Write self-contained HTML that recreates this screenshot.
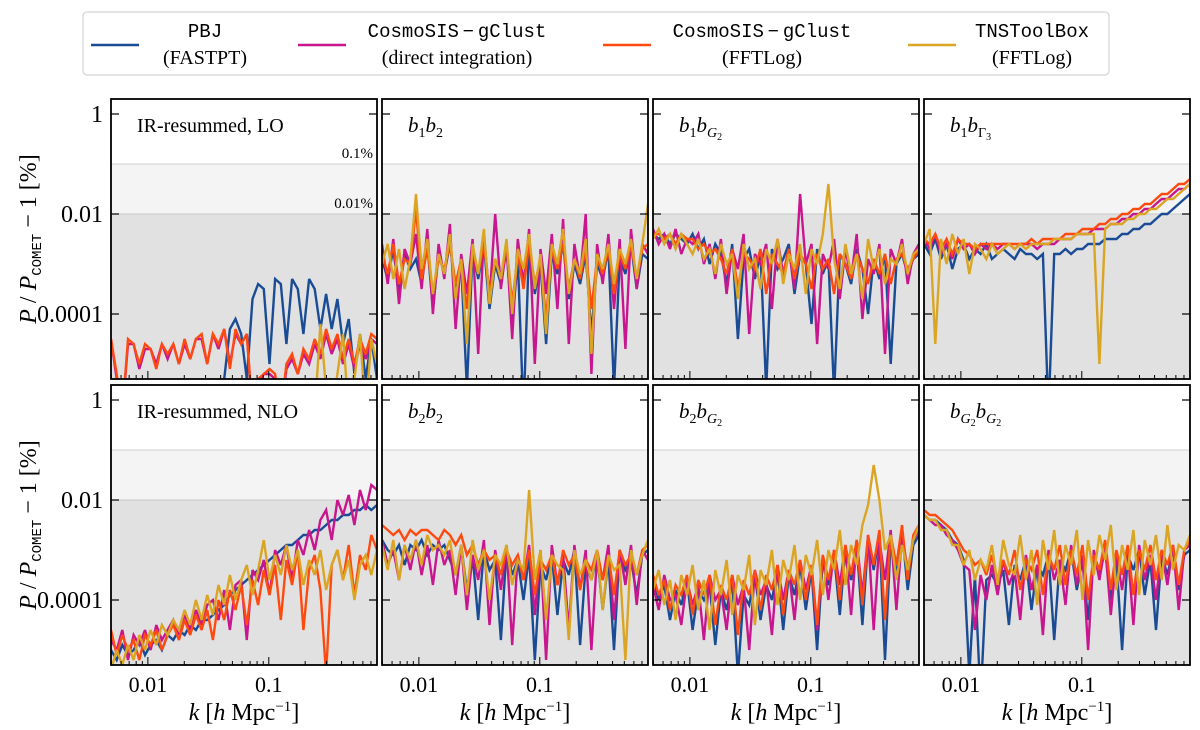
<!DOCTYPE html>
<html><head><meta charset="utf-8"><style>
body{margin:0;background:#fff;}
svg{display:block;font-family:"Liberation Serif",serif;}
</style></head><body>
<svg id="chart" width="1200" height="730" viewBox="0 0 1200 730"></svg>
<script>
// x-axis domain: log10 k range
const kLogMin = -2.305, kLogMax = -0.105;
// y-axis domain: log10 of |P/P_COMET-1| in %
const yLogTop = 0.3, yLogBottom = -5.3;
const yTickValues = [0, -2, -4];
const yTickLabels = ["1", "0.01", "0.0001"];
const xTickValues = [-2, -1];
const xTickLabels = ["0.01", "0.1"];
const seriesNames = ["PBJ", "CosmoSIS-gClust (direct integration)", "CosmoSIS-gClust (FFTLog)", "TNSToolBox (FFTLog)"];
const seriesColors = ["#1a4c95", "#c8168e", "#ff4a0f", "#dba524"];

// log10 values sampled on an even log-k grid
const loPBJ = [-6,-6,-6,-6,-6,-6,-6,-6,-6,-6,-6,-6,-6,-6,-6,-6,-6,-6,-6,-6,-5.3,-4.3,-4.1,-4.4,-5.3,-3.7,-3.4,-3.5,-5.0,-3.3,-3.4,-4.6,-3.3,-3.5,-4.4,-3.3,-3.5,-4.3,-3.6,-4.3,-3.7,-4.6,-4.1,-5.2,-4.4,-5.3,-4.5,-5.3];
const loDirect = [-4.5,-5.3,-6,-4.6,-4.6,-5.1,-4.7,-4.7,-5.0,-4.6,-4.9,-4.6,-5.0,-4.6,-4.9,-4.5,-4.5,-5.0,-4.4,-4.7,-4.3,-5.0,-4.4,-4.6,-4.4,-6,-5.4,-5.2,-5.2,-5.3,-6,-5.1,-4.9,-5.2,-4.8,-5.0,-4.6,-4.9,-4.4,-4.8,-4.5,-5.0,-4.6,-5.1,-4.6,-4.9,-4.5,-4.6];
const loFFT = [-4.5,-5.2,-6,-4.5,-4.6,-5.0,-4.6,-4.7,-5.1,-4.6,-4.8,-4.6,-5.0,-4.5,-4.9,-4.5,-4.4,-5.0,-4.4,-4.6,-4.3,-5.1,-4.3,-4.6,-4.4,-6,-5.3,-5.2,-5.1,-5.2,-6,-5.0,-4.8,-5.2,-4.7,-4.9,-4.5,-4.8,-4.3,-4.7,-4.4,-4.9,-4.5,-5.0,-4.5,-4.8,-4.4,-4.5];
const loTNS = [-6,-6,-6,-6,-6,-6,-6,-6,-6,-6,-6,-6,-6,-6,-6,-6,-6,-6,-6,-6,-6,-6,-6,-6,-6,-6,-6,-6,-6,-6,-6,-6,-6,-6,-6,-6,-6,-4.2,-5.5,-6,-5.2,-4.4,-6,-5.3,-4.4,-6,-4.5,-5.0];

const b1b2PBJ = [-2.9,-3.3,-2.7,-3.6,-2.8,-3.1,-2.9,-3.4,-2.6,-3.9,-2.8,-3.2,-2.6,-3.5,-3.0,-5.5,-2.7,-3.3,-2.6,-3.9,-3.0,-3.4,-2.7,-4.2,-2.9,-6,-2.6,-3.6,-3.0,-4.6,-2.8,-3.2,-2.6,-3.7,-3.0,-3.4,-2.8,-4.4,-3.0,-3.3,-2.7,-5.5,-2.9,-3.2,-2.6,-3.5,-2.8,-2.9];
const b1b2Direct = [-2.6,-3.4,-2.5,-3.8,-2.7,-3.0,-2.4,-3.5,-2.3,-4.0,-2.6,-3.3,-2.2,-4.3,-2.8,-3.6,-2.5,-4.8,-2.4,-3.7,-2.0,-3.5,-2.6,-4.5,-2.5,-3.4,-2.3,-5.0,-2.7,-3.6,-2.4,-3.9,-2.1,-4.6,-2.6,-3.3,-2.0,-5.2,-2.6,-3.4,-2.4,-3.9,-2.5,-4.7,-2.3,-3.5,-2.6,-2.8];
const b1b2FFT = [-2.8,-3.2,-2.6,-3.4,-2.9,-3.0,-1.9,-3.3,-2.7,-3.6,-2.9,-3.1,-2.6,-3.4,-2.9,-3.9,-2.7,-3.2,-2.6,-3.6,-2.9,-3.3,-2.6,-3.8,-2.8,-3.5,-2.6,-3.4,-2.9,-4.1,-2.7,-3.1,-2.6,-3.5,-2.9,-3.3,-2.7,-3.9,-2.9,-3.2,-2.7,-3.6,-2.8,-3.1,-2.6,-3.3,-2.7,-2.6];
const b1b2TNS = [-3.0,-2.6,-3.3,-2.7,-3.5,-2.9,-1.6,-3.1,-2.5,-3.6,-2.8,-3.2,-2.4,-3.7,-2.9,-4.6,-2.6,-3.2,-2.3,-3.8,-2.9,-3.3,-2.5,-4.0,-2.7,-3.1,-2.4,-3.5,-2.8,-4.4,-2.6,-3.0,-2.3,-3.6,-2.9,-3.2,-2.5,-4.8,-2.8,-3.1,-2.6,-3.4,-2.7,-3.0,-2.5,-3.3,-2.6,-1.8];

const b1bG2PBJ = [-2.4,-2.5,-2.4,-2.6,-2.4,-2.5,-2.6,-2.4,-2.7,-2.5,-3.0,-2.6,-2.8,-3.4,-2.6,-4.5,-2.9,-2.7,-3.3,-2.8,-5.5,-2.7,-3.1,-2.9,-2.6,-3.6,-2.8,-3.0,-4.2,-2.7,-3.2,-2.9,-5.6,-2.8,-3.0,-3.4,-2.7,-3.1,-4.0,-2.9,-3.3,-2.8,-5.0,-3.0,-2.8,-3.2,-2.9,-2.8];
const b1bG2Direct = [-2.3,-2.6,-2.4,-2.7,-2.3,-2.8,-2.5,-2.6,-2.4,-3.0,-2.6,-3.3,-2.5,-3.6,-2.7,-3.1,-2.4,-4.4,-2.8,-3.0,-2.6,-3.9,-2.5,-3.2,-2.7,-3.5,-1.6,-3.0,-2.6,-4.6,-2.8,-3.1,-2.5,-3.7,-2.7,-3.3,-2.4,-4.1,-2.9,-3.2,-2.6,-4.8,-2.7,-3.0,-2.5,-3.4,-2.8,-2.6];
const b1bG2FFT = [-2.4,-2.4,-2.5,-2.4,-2.6,-2.4,-2.5,-2.5,-2.7,-2.6,-2.8,-2.7,-2.9,-3.2,-2.7,-3.5,-2.8,-2.9,-3.1,-2.7,-3.6,-2.8,-3.0,-3.2,-2.7,-3.3,-2.8,-3.0,-3.5,-2.8,-3.1,-2.9,-3.6,-2.8,-3.0,-3.3,-2.8,-3.1,-3.4,-2.9,-3.2,-2.8,-3.4,-2.9,-2.8,-3.1,-2.9,-2.7];
const b1bG2TNS = [-2.5,-2.3,-2.6,-2.4,-2.7,-2.4,-2.6,-2.8,-2.5,-2.9,-2.7,-3.2,-2.6,-3.0,-2.8,-3.7,-2.6,-3.1,-2.9,-3.5,-2.7,-3.0,-2.5,-3.4,-2.8,-3.1,-2.6,-3.6,-2.7,-3.0,-2.4,-1.4,-2.9,-3.5,-2.6,-3.2,-2.8,-3.7,-2.5,-3.1,-2.7,-3.4,-2.9,-3.0,-2.6,-3.2,-2.8,-2.7];

const b1bGam3PBJ = [-2.6,-2.8,-2.5,-2.9,-2.6,-3.1,-2.7,-2.6,-2.9,-2.7,-2.8,-2.6,-2.9,-2.8,-2.7,-2.8,-2.9,-2.7,-2.8,-2.8,-2.9,-2.8,-6,-2.8,-2.8,-2.7,-2.8,-2.7,-2.7,-2.6,-2.6,-2.6,-2.5,-2.5,-2.5,-2.4,-2.4,-2.3,-2.3,-2.2,-2.2,-2.1,-2.0,-2.0,-1.9,-1.8,-1.7,-1.6];
const b1bGam3Direct = [-2.5,-2.7,-2.4,-2.8,-2.6,-2.9,-2.5,-2.7,-2.6,-2.8,-2.6,-2.7,-2.6,-2.7,-2.6,-2.6,-2.7,-2.6,-2.6,-2.6,-2.7,-2.6,-2.6,-2.6,-2.5,-2.5,-2.5,-2.4,-2.4,-2.4,-2.3,-2.3,-2.3,-2.2,-2.2,-2.1,-2.1,-2.0,-2.0,-1.9,-1.9,-1.8,-1.7,-1.7,-1.6,-1.5,-1.5,-1.4];
const b1bGam3FFT = [-2.5,-2.6,-2.4,-2.7,-2.5,-2.8,-2.5,-2.6,-2.6,-2.7,-2.6,-2.6,-2.6,-2.6,-2.6,-2.6,-2.6,-2.6,-2.6,-2.5,-2.6,-2.5,-2.5,-2.5,-2.5,-2.4,-2.4,-2.4,-2.3,-2.3,-2.3,-2.2,-2.2,-2.1,-2.1,-2.0,-2.0,-1.9,-1.9,-1.8,-1.8,-1.7,-1.6,-1.6,-1.5,-1.4,-1.4,-1.3];
const b1bGam3TNS = [-2.6,-2.3,-4.6,-2.5,-3.0,-2.4,-2.8,-2.5,-3.2,-2.6,-2.7,-2.9,-2.6,-2.8,-2.7,-2.6,-2.7,-2.6,-2.7,-2.6,-2.6,-2.6,-2.6,-2.5,-2.5,-2.5,-2.5,-2.4,-2.4,-2.4,-2.4,-5.0,-2.3,-2.2,-2.2,-2.2,-2.1,-2.1,-2.0,-2.0,-1.9,-1.9,-1.8,-1.7,-1.7,-1.6,-1.5,-1.4];

const nloPBJ = [-5.0,-5.2,-4.9,-5.1,-5.0,-4.8,-5.1,-4.9,-4.8,-5.0,-4.7,-4.8,-4.6,-4.7,-4.5,-4.6,-4.4,-4.4,-4.3,-4.2,-4.1,-3.9,-3.8,-3.7,-3.6,-3.5,-3.4,-3.3,-3.2,-3.1,-3.0,-2.9,-2.9,-2.8,-2.7,-2.7,-2.6,-2.6,-2.5,-2.4,-2.4,-2.3,-2.3,-2.2,-2.2,-2.1,-2.2,-2.1];
const nloDirect = [-4.8,-5.0,-4.6,-5.2,-4.7,-4.9,-4.6,-5.0,-4.5,-4.8,-4.6,-4.4,-4.7,-4.3,-4.6,-4.2,-4.5,-4.1,-4.0,-4.4,-3.8,-4.6,-3.7,-3.6,-4.8,-3.4,-3.6,-3.2,-3.9,-3.0,-3.3,-2.9,-3.6,-2.8,-3.1,-2.6,-3.0,-2.4,-2.2,-2.8,-2.0,-2.3,-1.9,-2.5,-1.8,-2.2,-1.7,-1.8];
const nloFFT = [-4.6,-5.1,-4.7,-5.0,-4.8,-5.2,-4.7,-4.9,-4.6,-5.0,-4.7,-4.5,-4.8,-4.4,-4.7,-4.3,-4.6,-4.2,-4.8,-4.0,-4.4,-3.8,-4.2,-3.7,-4.5,-3.6,-4.1,-3.4,-3.9,-3.3,-4.4,-3.2,-3.7,-3.0,-4.6,-3.4,-3.1,-3.8,-5.5,-3.3,-3.0,-3.6,-2.9,-3.9,-3.1,-3.4,-2.7,-3.0];
const nloTNS = [-5.4,-5.0,-5.3,-4.9,-5.2,-4.7,-5.0,-4.6,-4.9,-4.5,-4.7,-4.4,-4.6,-4.2,-4.5,-4.0,-4.4,-3.9,-4.3,-3.7,-4.1,-3.5,-4.0,-3.6,-3.3,-3.9,-3.4,-2.8,-3.6,-3.1,-3.5,-2.9,-3.4,-3.0,-3.7,-3.2,-3.5,-3.0,-3.8,-3.3,-3.0,-3.6,-3.2,-4.0,-3.3,-3.1,-3.5,-3.0];

const b2b2PBJ = [-2.8,-3.0,-3.1,-2.9,-3.3,-2.9,-3.0,-2.8,-3.1,-2.9,-3.0,-2.9,-3.2,-3.5,-2.9,-3.8,-3.1,-4.4,-3.0,-3.4,-3.2,-4.8,-3.0,-3.5,-3.2,-4.0,-3.1,-5.2,-3.3,-3.6,-3.1,-4.3,-3.2,-3.5,-3.0,-4.9,-3.3,-3.6,-3.1,-4.2,-3.2,-5.0,-3.0,-3.4,-3.2,-3.9,-3.1,-3.0];
const b2b2Direct = [-2.8,-3.3,-3.0,-3.6,-2.9,-3.4,-2.8,-3.5,-2.9,-3.7,-2.8,-3.3,-3.0,-3.9,-2.9,-4.2,-3.1,-3.6,-2.8,-4.5,-3.0,-3.8,-2.9,-4.9,-3.1,-3.6,-2.9,-4.3,-3.0,-5.2,-2.9,-3.7,-3.1,-4.6,-2.9,-3.8,-3.0,-5.0,-3.1,-3.6,-2.9,-4.4,-3.0,-3.7,-2.9,-4.1,-3.0,-3.2];
const b2b2FFT = [-2.5,-2.6,-2.7,-2.6,-2.8,-2.6,-2.7,-2.6,-2.6,-2.7,-2.8,-2.6,-2.7,-2.9,-2.7,-3.1,-2.9,-3.3,-3.0,-3.2,-3.1,-3.5,-3.0,-3.3,-3.1,-3.6,-3.0,-3.9,-3.2,-3.4,-3.1,-3.7,-3.0,-3.3,-3.1,-3.8,-3.2,-3.4,-3.0,-3.6,-3.1,-3.9,-3.0,-3.3,-3.1,-3.5,-3.0,-2.9];
const b2b2TNS = [-2.9,-3.4,-2.8,-3.6,-2.9,-3.2,-2.8,-3.3,-2.7,-3.0,-2.9,-3.1,-2.8,-3.5,-2.9,-3.9,-2.8,-3.4,-3.0,-4.0,-3.1,-3.3,-2.9,-3.7,-3.2,-3.4,-1.8,-3.6,-3.0,-4.4,-3.1,-3.3,-3.4,-4.8,-3.0,-3.5,-3.2,-3.6,-3.0,-4.2,-3.1,-3.4,-3.3,-5.2,-3.0,-3.5,-3.1,-2.8];

const b2bG2PBJ = [-3.6,-4.0,-3.7,-4.4,-3.8,-4.1,-3.6,-4.6,-3.8,-4.0,-3.7,-4.9,-3.8,-4.2,-3.6,-5.5,-3.9,-4.1,-3.5,-4.4,-3.7,-4.0,-3.4,-4.6,-3.5,-3.9,-3.3,-4.2,-3.4,-5.0,-3.2,-3.7,-3.1,-4.3,-3.0,-3.6,-2.9,-4.5,-2.8,-3.4,-2.7,-5.2,-2.8,-3.5,-2.6,-3.8,-2.9,-2.7];
const b2bG2Direct = [-3.7,-4.2,-3.5,-4.0,-3.9,-4.5,-3.6,-4.1,-3.7,-4.8,-3.5,-4.0,-3.8,-4.6,-3.5,-4.1,-3.7,-5.0,-3.4,-3.9,-3.6,-4.7,-3.3,-4.0,-3.4,-4.4,-3.2,-3.8,-3.3,-4.6,-3.1,-4.0,-3.0,-3.7,-2.9,-4.3,-2.8,-3.9,-2.7,-4.6,-2.8,-3.6,-2.6,-4.2,-2.7,-3.4,-2.8,-2.6];
const b2bG2FFT = [-3.5,-3.9,-3.6,-4.2,-3.7,-3.9,-3.5,-4.3,-3.6,-3.9,-3.5,-4.5,-3.7,-4.0,-3.5,-4.7,-3.6,-3.9,-3.4,-4.2,-3.5,-3.8,-3.3,-4.3,-3.4,-3.7,-3.2,-4.0,-3.3,-4.5,-3.1,-3.6,-3.0,-4.0,-2.9,-3.5,-2.8,-4.1,-2.7,-3.3,-2.6,-4.4,-2.7,-3.3,-2.5,-3.6,-2.7,-2.5];
const b2bG2TNS = [-3.8,-3.4,-4.1,-3.6,-4.4,-3.5,-3.9,-3.3,-4.2,-3.6,-4.6,-3.4,-3.9,-3.2,-4.3,-3.5,-3.8,-3.1,-4.5,-3.4,-3.7,-3.0,-4.1,-3.2,-3.6,-2.9,-4.0,-3.1,-3.5,-2.8,-3.9,-3.0,-3.4,-2.6,-3.7,-2.9,-3.3,-2.5,-2.1,-1.3,-2.0,-3.0,-2.7,-3.6,-2.9,-3.4,-2.8,-2.5];

const bG2bG2PBJ = [-2.3,-2.4,-2.4,-2.5,-2.6,-2.8,-2.9,-3.2,-5.5,-3.5,-6,-3.6,-3.5,-3.7,-3.4,-4.5,-3.3,-3.6,-3.2,-4.2,-3.3,-3.5,-3.1,-4.8,-3.2,-3.4,-3.0,-3.8,-3.2,-4.4,-3.1,-3.5,-3.0,-4.0,-3.2,-5.0,-3.1,-3.4,-3.0,-3.9,-3.2,-4.6,-3.1,-3.5,-3.0,-3.8,-3.1,-3.0];
const bG2bG2Direct = [-2.3,-2.4,-2.5,-2.5,-2.7,-2.8,-3.0,-3.3,-3.4,-4.6,-3.5,-4.0,-3.3,-3.9,-3.2,-3.7,-3.4,-4.4,-3.1,-3.8,-3.3,-4.7,-3.0,-3.6,-3.2,-4.1,-2.9,-3.7,-3.1,-5.0,-3.0,-3.6,-2.9,-4.3,-3.1,-3.8,-3.0,-4.5,-2.9,-3.6,-3.1,-4.0,-3.0,-3.7,-2.9,-4.2,-3.0,-2.9];
const bG2bG2FFT = [-2.2,-2.3,-2.3,-2.4,-2.5,-2.6,-2.8,-3.0,-3.1,-3.3,-3.2,-3.5,-3.1,-3.6,-3.2,-3.5,-3.0,-3.8,-3.2,-3.4,-3.0,-3.9,-3.1,-3.4,-2.9,-3.7,-3.0,-3.5,-2.9,-4.0,-3.1,-3.4,-2.8,-3.8,-3.0,-3.5,-2.9,-3.9,-3.0,-3.4,-2.9,-3.6,-3.0,-3.3,-2.9,-3.7,-3.0,-2.8];
const bG2bG2TNS = [-2.3,-2.4,-2.4,-2.6,-2.6,-2.9,-2.9,-3.3,-3.0,-3.6,-3.2,-3.4,-2.9,-3.7,-2.8,-3.3,-3.5,-2.7,-3.6,-3.0,-4.1,-2.8,-3.4,-2.6,-3.7,-2.9,-3.3,-2.6,-4.0,-2.8,-3.5,-2.7,-3.2,-2.5,-3.8,-2.9,-3.4,-2.6,-3.9,-2.8,-3.3,-2.7,-3.6,-2.5,-3.4,-2.9,-3.0,-2.7];

const panelSeries = [
  [loPBJ, loDirect, loFFT, loTNS],
  [b1b2PBJ, b1b2Direct, b1b2FFT, b1b2TNS],
  [b1bG2PBJ, b1bG2Direct, b1bG2FFT, b1bG2TNS],
  [b1bGam3PBJ, b1bGam3Direct, b1bGam3FFT, b1bGam3TNS],
  [nloPBJ, nloDirect, nloFFT, nloTNS],
  [b2b2PBJ, b2b2Direct, b2b2FFT, b2b2TNS],
  [b2bG2PBJ, b2bG2Direct, b2bG2FFT, b2bG2TNS],
  [bG2bG2PBJ, bG2bG2Direct, bG2bG2FFT, bG2bG2TNS]
];
const panelKeys = ["ir-lo","b1b2","b1-bg2","b1-bgamma3","ir-nlo","b2b2","b2-bg2","bg2-bg2"];

const NS = "http://www.w3.org/2000/svg";
const svg = document.getElementById("chart");
const PX = [111, 382, 653, 924], PW = 266;
const PY = [99, 385], PH = 280;

function mk(tag, attrs, parent) {
  const e = document.createElementNS(NS, tag);
  for (const k in attrs) e.setAttribute(k, attrs[k]);
  (parent || svg).appendChild(e);
  return e;
}
function xScale(px, lk) { return px + (lk - kLogMin) / (kLogMax - kLogMin) * PW; }
function yScale(py, lv) { return py + (yLogTop - lv) / (yLogTop - yLogBottom) * PH; }

const defs = mk("defs", {});

function titleSpans(t, idx) {
  const parts = {
    1: [["b","i"],["1","s"],["b","i"],["2","s"]],
    2: [["b","i"],["1","s"],["b","i"],["G","si"],["2","ss"]],
    3: [["b","i"],["1","s"],["b","i"],["Γ","s"],["3","ss"]],
    5: [["b","i"],["2","s"],["b","i"],["2","s"]],
    6: [["b","i"],["2","s"],["b","i"],["G","si"],["2","ss"]],
    7: [["b","i"],["G","si"],["2","ss"],["b","i"],["G","si"],["2","ss"]]
  }[idx];
  let level = 0;
  parts.forEach(([s, kind]) => {
    const sp = mk("tspan", {}, t);
    let target = 0;
    if (kind === "i") { sp.setAttribute("font-style","italic"); sp.setAttribute("font-size","21"); }
    if (kind === "s" || kind === "si") { target = 5; sp.setAttribute("font-size","14"); if (kind==="si") sp.setAttribute("font-style","italic"); }
    if (kind === "ss") { target = 8; sp.setAttribute("font-size","10"); }
    if (target !== level) { sp.setAttribute("dy", target - level); level = target; }
    sp.textContent = s;
  });
}

for (let p = 0; p < 8; p++) {
  const col = p % 4, row = Math.floor(p / 4);
  const px = PX[col], py = PY[row];
  const g = mk("g", {});
  
  
  const cp = mk("clipPath", {id: "cp" + p}, defs);
  mk("rect", {x: px, y: py, width: PW, height: PH}, cp);
  const y01 = yScale(py, -1), y001 = yScale(py, -2);
  const b1 = mk("rect", {x: px, y: y01, width: PW, height: y001 - y01, fill: "#f4f4f4"}, g);
  
  
  const b2 = mk("rect", {x: px, y: y001, width: PW, height: py + PH - y001, fill: "#e1e1e1"}, g);
  
  
  mk("line", {x1: px, x2: px + PW, y1: y01, y2: y01, stroke: "#cfcfcf", "stroke-width": 1}, g);
  mk("line", {x1: px, x2: px + PW, y1: y001, y2: y001, stroke: "#c8c8c8", "stroke-width": 1}, g);
  const sg = mk("g", {"clip-path": "url(#cp" + p + ")"}, g);
  panelSeries[p].forEach((arr, s) => {
    const n = arr.length;
    const pts = arr.map((v, i) => {
      const lk = kLogMin + i * (kLogMax - kLogMin) / (n - 1);
      return xScale(px, lk).toFixed(1) + "," + yScale(py, v).toFixed(1);
    }).join(" ");
    const pl = mk("polyline", {points: pts, fill: "none", stroke: seriesColors[s], "stroke-width": 2.4, "stroke-linejoin": "miter", "stroke-miterlimit": 3}, sg);
    
    
  });
  mk("rect", {x: px, y: py, width: PW, height: PH, fill: "none", stroke: "#000", "stroke-width": 1.8}, g);
  yTickValues.forEach((v, i) => {
    const y = yScale(py, v);
    mk("line", {x1: px, x2: px + 8, y1: y, y2: y, stroke: "#000", "stroke-width": 1.2}, g);
    mk("line", {x1: px + PW - 8, x2: px + PW, y1: y, y2: y, stroke: "#000", "stroke-width": 1.2}, g);
    if (col === 0) {
      const t = mk("text", {x: px - 8, y: y + 8, "text-anchor": "end", "font-size": 24}, g);
      
      
      t.textContent = yTickLabels[i];
    }
  });
  for (let d = -3; d <= 0; d++) {
    for (let m = 1; m <= 9; m++) {
      const lk = d + Math.log10(m);
      if (lk < kLogMin || lk > kLogMax) continue;
      const x = xScale(px, lk);
      const len = m === 1 ? 8 : 4;
      mk("line", {x1: x, x2: x, y1: py + PH, y2: py + PH - len, stroke: "#000", "stroke-width": 1}, g);
    }
  }
  if (row === 1) {
    xTickValues.forEach((v, i) => {
      const t = mk("text", {x: xScale(px, v), y: py + PH + 27, "text-anchor": "middle", "font-size": 22}, g);
      
      
      t.textContent = xTickLabels[i];
    });
    const xl = mk("text", {x: px + PW / 2, y: py + PH + 55, "text-anchor": "middle", "font-size": 24}, g);
    
    
    xl.innerHTML = '<tspan font-style="italic">k</tspan> [<tspan font-style="italic">h</tspan> Mpc<tspan font-size="15" dy="-9">−1</tspan><tspan dy="9">]</tspan>';
  }
  const tt = mk("text", {x: px + 26, y: py + 33, "font-size": 20}, g);
  
  
  if (p === 0) tt.textContent = "IR-resummed, LO";
  else if (p === 4) tt.textContent = "IR-resummed, NLO";
  else titleSpans(tt, p);
  if (p === 0) {
    const a = mk("text", {x: px + PW - 4, y: y01 - 6, "text-anchor": "end", "font-size": 15}, g);
    
    
    a.textContent = "0.1%";
    const b = mk("text", {x: px + PW - 4, y: y001 - 6, "text-anchor": "end", "font-size": 15}, g);
    
    
    b.textContent = "0.01%";
  }
}
[0, 1].forEach(r => {
  const cy = PY[r] + PH / 2;
  const t = mk("text", {x: 0, y: 0, transform: "translate(36," + cy + ") rotate(-90)", "text-anchor": "middle", "font-size": 24});
  
  
  t.innerHTML = '<tspan font-style="italic">P</tspan> / <tspan font-style="italic">P</tspan><tspan font-family="Liberation Mono, monospace" font-size="14" dy="5">COMET</tspan><tspan dy="-5"> − 1 [%]</tspan>';
});
const lg = mk("g", {});


mk("rect", {x: 83, y: 12, width: 1026, height: 63, rx: 4, fill: "#fff", stroke: "#d4d4d4", "stroke-width": 1.2}, lg);
const legLineX = [91, 298, 603, 908];
const legTextX = [205, 457, 762, 1032];
const legTop = ["PBJ", "CosmoSIS\u2009\u2212\u2009gClust", "CosmoSIS\u2009\u2212\u2009gClust", "TNSToolBox"];
const legBottom = ["(FASTPT)", "(direct integration)", "(FFTLog)", "(FFTLog)"];
for (let i = 0; i < 4; i++) {
  const e = mk("g", {}, lg);
  
  
  mk("line", {x1: legLineX[i], x2: legLineX[i] + 48, y1: 45, y2: 45, stroke: seriesColors[i], "stroke-width": 2.6}, e);
  const t1 = mk("text", {x: legTextX[i], y: 37, "text-anchor": "middle", "font-size": 19, "font-family": "Liberation Mono, monospace"}, e);
  t1.textContent = legTop[i];
  const t2 = mk("text", {x: legTextX[i], y: 64, "text-anchor": "middle", "font-size": 20}, e);
  t2.textContent = legBottom[i];
}
</script>
</body></html>
